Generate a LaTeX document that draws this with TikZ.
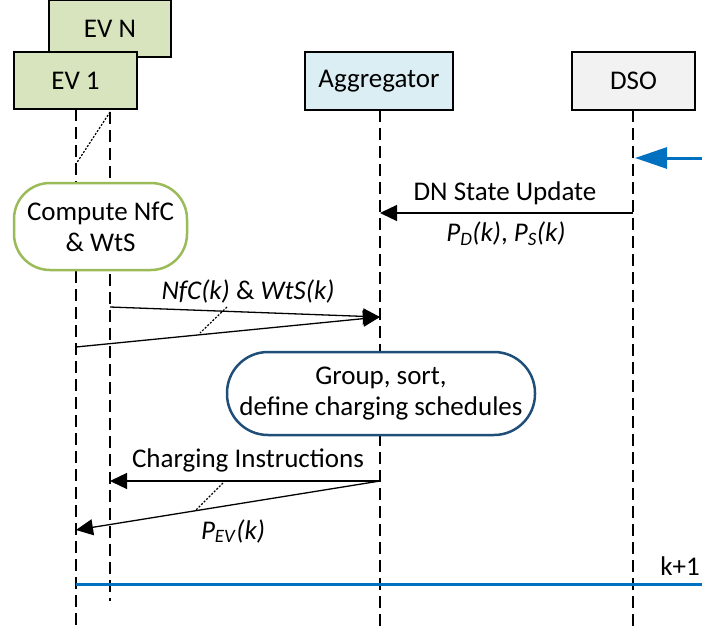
\documentclass[tikz,border=0pt]{standalone}
\usepackage{fontspec}
\setmainfont{Carlito}
\usetikzlibrary{arrows.meta}
\definecolor{evfill}{HTML}{D7E4BD}
\definecolor{aggfill}{HTML}{DBEEF4}
\definecolor{dsofill}{HTML}{F2F2F2}
\definecolor{evgreen}{HTML}{9BBB59}
\definecolor{navy}{HTML}{1F4E79}
\definecolor{stepblue}{HTML}{0070C0}
\newcommand{\Psub}[1]{\textit{P}\textsubscript{\textit{#1}}}
\begin{document}
\begin{tikzpicture}[x=1pt,y=-1pt,
  txt/.style={font=\fontsize{27}{31}\selectfont},
  actor/.style={txt,draw=black,line width=1.3pt,inner sep=0pt,anchor=center},
  lifeline/.style={draw=black,line width=1.3pt,dash pattern=on 12pt off 6pt},
  msg/.style={draw=black,line width=1.3pt,-{Triangle[length=17pt,width=16pt]}},
  activity/.style={txt,align=center,fill=white,inner sep=0pt,line width=2.5pt},
  leader/.style={draw=black,line width=1.2pt,dash pattern=on 2pt off 1.6pt},
  lbl/.style={txt,inner sep=0pt,anchor=center}]
\useasboundingbox (0,0) rectangle (702,629);

% lifeline ends
\coordinate (evnEnd) at (110,601);
\coordinate (evEnd) at (76,629);
\coordinate (aggEnd) at (380,629);
\coordinate (dsoEnd) at (633,629);

% actors (EV N first so EV 1 sits on top of it)
\node[actor,fill=evfill,minimum width=122pt,minimum height=57pt] (evn) at (110,28.5) {EV N};
\draw[lifeline] (evn.south) -- (evnEnd);
\draw[lifeline] (76,109) -- (evEnd);
\node[actor,fill=evfill,minimum width=123pt,minimum height=57pt] (ev) at (75.5,80.5) {EV 1};
\node[actor,fill=aggfill,minimum width=148pt,minimum height=58pt] (agg) at (379,81) {Aggregator};
\node[actor,fill=dsofill,minimum width=123pt,minimum height=58pt] (dso) at (633.5,81) {DSO};
\draw[lifeline] (380,110) -- (aggEnd);
\draw[lifeline] (633,110) -- (dsoEnd);

% EV N hidden behind EV 1
\coordinate (evnTop) at (110,112);
\coordinate (evTop) at (76,164);
\draw[leader] (evnTop) -- (evTop);

% time step trigger into the DSO
\coordinate (trigIn) at (702,158);
\coordinate (trigAt) at (635,158);
\draw[draw=stepblue,line width=3pt,-{Triangle[length=32pt,width=21pt]}] (trigIn) -- (trigAt);

% DN state update
\coordinate (dnFrom) at (633,213);
\coordinate (dnTo) at (380,213);
\draw[msg] (dnFrom) -- (dnTo);
\node[lbl] (dnLbl) at (505,193) {DN State Update};
\node[lbl] (dnVal) at (506,234) {\Psub{D}\textit{(k)}, \Psub{S}\textit{(k)}};

% local computation in the EVs
\node[activity,draw=evgreen,rounded corners=36pt,minimum width=173pt,minimum height=87pt] (calc) at (100.5,226.5) {Compute NfC\\\& WtS};

% NfC and WtS reports
\coordinate (nfcN) at (110,307);
\coordinate (nfc1) at (76,347);
\coordinate (nfcTo) at (380,317);
\draw[msg] (nfcN) -- (nfcTo);
\draw[msg] (nfc1) -- (nfcTo);
\coordinate (nfcA) at (227,307);
\coordinate (nfcB) at (200,333);
\draw[leader] (nfcA) -- (nfcB);
\node[lbl] (nfcLbl) at (248,291) {\textit{NfC(k)} \& \textit{WtS(k)}};

% aggregator scheduling
\node[activity,draw=navy,rounded corners=41pt,minimum width=308pt,minimum height=83pt] (sched) at (381,393.5) {Group, sort,\\define charging schedules};

% charging instructions
\coordinate (ciFrom) at (380,481);
\coordinate (ciN) at (110,481);
\coordinate (ci1) at (76,530);
\draw[msg] (ciFrom) -- (ciN);
\draw[msg] (ciFrom) -- (ci1);
\coordinate (ciA) at (223,483);
\coordinate (ciB) at (195,511);
\draw[leader] (ciA) -- (ciB);
\node[lbl] (ciLbl) at (248,460) {Charging Instructions};
\node[lbl] (pevLbl) at (233,531) {\Psub{EV}\textit{(k)}};

% next time step
\coordinate (kFrom) at (76,584);
\coordinate (kTo) at (702,584);
\draw[draw=stepblue,line width=3pt] (kFrom) -- (kTo);
\node[lbl] (kLbl) at (680,566) {k+1};
\end{tikzpicture}
\end{document}
